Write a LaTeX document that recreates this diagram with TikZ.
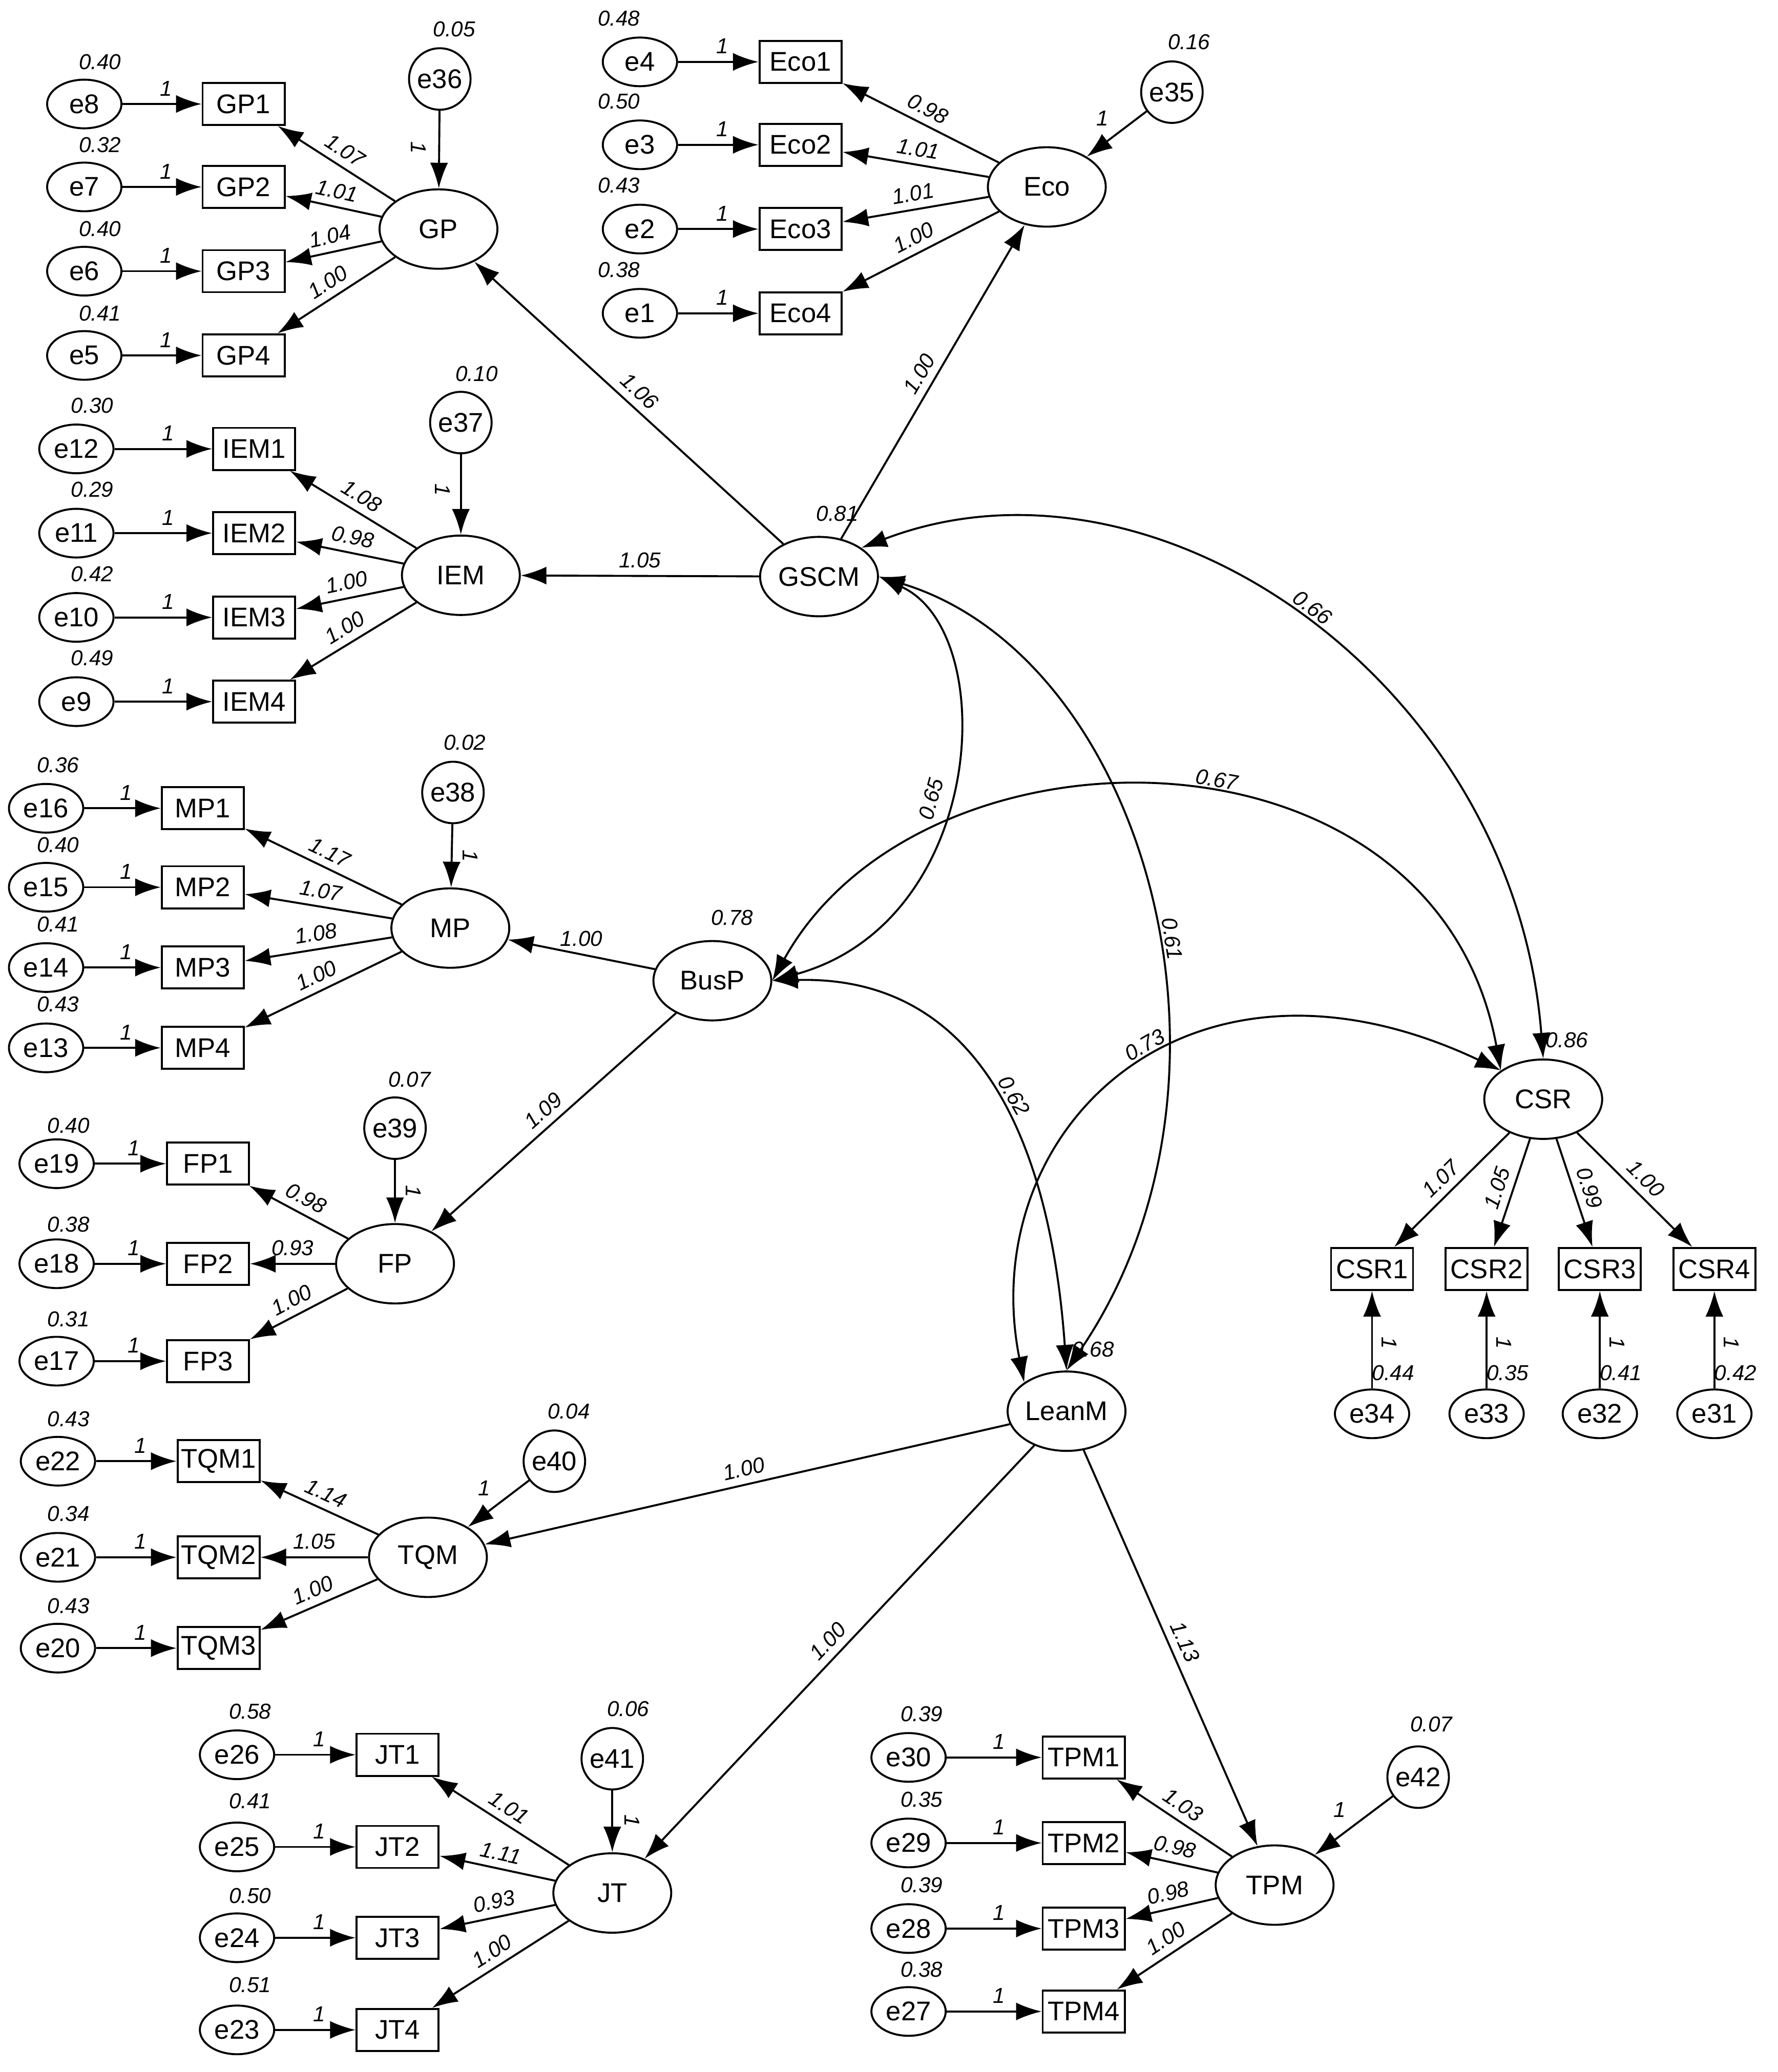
\documentclass[tikz,border=0pt]{standalone}
\usepackage{fontspec}
\setmainfont{Liberation Sans}
\usetikzlibrary{arrows.meta,shapes.geometric}
\begin{document}
\begin{tikzpicture}[x=0.0257cm,y=-0.0257cm,
 lat/.style={ellipse,draw,line width=1.1pt,inner sep=0pt,font=\fontsize{15}{18}\selectfont},
 big/.style={lat,minimum width=2.3cm,minimum height=1.55cm},
 err/.style={ellipse,draw,line width=1.1pt,minimum width=1.45cm,minimum height=0.95cm,inner sep=0pt,font=\fontsize{15}{18}\selectfont},
 cerr/.style={circle,draw,line width=1.1pt,minimum size=1.2cm,inner sep=0pt,font=\fontsize{15}{18}\selectfont},
 box/.style={rectangle,draw,line width=1.1pt,minimum width=1.6cm,minimum height=0.82cm,inner sep=1pt,font=\fontsize{15}{18}\selectfont},
 arr/.style={line width=1.1pt,-{Latex[length=0.5cm,width=0.35cm]}},
 cov/.style={line width=1.1pt,{Latex[length=0.5cm,width=0.35cm]}-{Latex[length=0.5cm,width=0.35cm]}},
 lab/.style={font=\fontsize{12}{14}\selectfont\itshape,inner sep=4pt},
 vlab/.style={font=\fontsize{12}{14}\selectfont\itshape,inner sep=0pt}]
\useasboundingbox (0,0) rectangle (1350,1574);
\newcommand\mkind[6]{%
 \node[box] (#1) at (#3,#4) {#2};
 \node[err] (#5) at (#6,#4) {#5};
 \draw[arr] (#5) -- node[lab,above,pos=0.55]{1} (#1);}
\newcommand\vr[3]{\node[vlab] at (#1,#2) {#3};}
% ---------- Eco
\node[big] (Eco) at (795,142) {Eco};
\mkind{Eco1}{Eco1}{608}{47}{e4}{486}\vr{470}{14}{0.48}
\mkind{Eco2}{Eco2}{608}{110}{e3}{486}\vr{470}{77}{0.50}
\mkind{Eco3}{Eco3}{608}{174}{e2}{486}\vr{470}{141}{0.43}
\mkind{Eco4}{Eco4}{608}{238}{e1}{486}\vr{470}{205}{0.38}
\node[cerr] (e35) at (890,70) {e35};\vr{903}{32}{0.16}
\draw[arr] (e35) -- node[lab,above left]{1} (Eco);
\draw[arr] (Eco) -- node[lab,sloped,above]{0.98} (Eco1);
\draw[arr] (Eco) -- node[lab,sloped,above]{1.01} (Eco2);
\draw[arr] (Eco) -- node[lab,sloped,above]{1.01} (Eco3);
\draw[arr] (Eco) -- node[lab,sloped,above]{1.00} (Eco4);
% ---------- GP
\node[big] (GP) at (333,174) {GP};
\mkind{GP1}{GP1}{185}{79}{e8}{64}\vr{76}{47}{0.40}
\mkind{GP2}{GP2}{185}{142}{e7}{64}\vr{76}{110}{0.32}
\mkind{GP3}{GP3}{185}{206}{e6}{64}\vr{76}{174}{0.40}
\mkind{GP4}{GP4}{185}{270}{e5}{64}\vr{76}{238}{0.41}
\node[cerr] (e36) at (334,60) {e36};\vr{345}{22}{0.05}
\draw[arr] (e36) -- (GP);
\node[lab,rotate=-90] at (318,112) {1};
\draw[arr] (GP) -- node[lab,sloped,above]{1.07} (GP1);
\draw[arr] (GP) -- node[lab,sloped,above]{1.01} (GP2);
\draw[arr] (GP) -- node[lab,sloped,above]{1.04} (GP3);
\draw[arr] (GP) -- node[lab,sloped,above]{1.00} (GP4);
% ---------- IEM
\node[big] (IEM) at (350,437) {IEM};
\mkind{IEM1}{IEM1}{193}{341}{e12}{58}\vr{70}{308}{0.30}
\mkind{IEM2}{IEM2}{193}{405}{e11}{58}\vr{70}{372}{0.29}
\mkind{IEM3}{IEM3}{193}{469}{e10}{58}\vr{70}{436}{0.42}
\mkind{IEM4}{IEM4}{193}{533}{e9}{58}\vr{70}{500}{0.49}
\node[cerr] (e37) at (350,321) {e37};\vr{362}{284}{0.10}
\draw[arr] (e37) -- (IEM);
\node[lab,rotate=-90] at (336,372) {1};
\draw[arr] (IEM) -- node[lab,sloped,above]{1.08} (IEM1);
\draw[arr] (IEM) -- node[lab,sloped,above]{0.98} (IEM2);
\draw[arr] (IEM) -- node[lab,sloped,above]{1.00} (IEM3);
\draw[arr] (IEM) -- node[lab,sloped,above]{1.00} (IEM4);
% ---------- GSCM
\node[big] (GSCM) at (622,438) {GSCM};\vr{636}{390}{0.81}
\draw[arr] (GSCM) -- node[lab,sloped,above]{1.06} (GP);
\draw[arr] (GSCM) -- node[lab,sloped,above]{1.00} (Eco);
\draw[arr] (GSCM) -- node[lab,above]{1.05} (IEM);
% ---------- MP
\node[big] (MP) at (342,705) {MP};
\mkind{MP1}{MP1}{154}{614}{e16}{35}\vr{44}{581}{0.36}
\mkind{MP2}{MP2}{154}{674}{e15}{35}\vr{44}{642}{0.40}
\mkind{MP3}{MP3}{154}{735}{e14}{35}\vr{44}{702}{0.41}
\mkind{MP4}{MP4}{154}{796}{e13}{35}\vr{44}{763}{0.43}
\node[cerr] (e38) at (344,602) {e38};\vr{353}{564}{0.02}
\draw[arr] (e38) -- (MP);
\node[lab,rotate=-90] at (357,650) {1};
\draw[arr] (MP) -- node[lab,sloped,above]{1.17} (MP1);
\draw[arr] (MP) -- node[lab,sloped,above]{1.07} (MP2);
\draw[arr] (MP) -- node[lab,sloped,above]{1.08} (MP3);
\draw[arr] (MP) -- node[lab,sloped,above]{1.00} (MP4);
% ---------- BusP
\node[big] (BusP) at (541,745) {BusP};\vr{556}{697}{0.78}
\draw[arr] (BusP) -- node[lab,above]{1.00} (MP);
% ---------- FP
\node[big] (FP) at (300,960) {FP};
\mkind{FP1}{FP1}{158}{884}{e19}{43}\vr{52}{855}{0.40}
\mkind{FP2}{FP2}{158}{960}{e18}{43}\vr{52}{930}{0.38}
\mkind{FP3}{FP3}{158}{1034}{e17}{43}\vr{52}{1002}{0.31}
\node[cerr] (e39) at (300,857) {e39};\vr{311}{820}{0.07}
\draw[arr] (e39) -- (FP);
\node[lab,rotate=-90] at (314,905) {1};
\draw[arr] (FP) -- node[lab,sloped,above]{0.98} (FP1);
\draw[arr] (FP) -- node[lab,above]{0.93} (FP2);
\draw[arr] (FP) -- node[lab,sloped,above]{1.00} (FP3);
\draw[arr] (BusP) -- node[lab,sloped,above]{1.09} (FP);
% ---------- LeanM
\node[big] (LeanM) at (810,1072) {LeanM};\vr{830}{1025}{0.68}
% ---------- TQM
\node[big] (TQM) at (325,1183) {TQM};
\mkind{TQM1}{TQM1}{166}{1110}{e22}{44}\vr{52}{1078}{0.43}
\mkind{TQM2}{TQM2}{166}{1183}{e21}{44}\vr{52}{1150}{0.34}
\mkind{TQM3}{TQM3}{166}{1252}{e20}{44}\vr{52}{1220}{0.43}
\node[cerr] (e40) at (421,1110) {e40};\vr{432}{1072}{0.04}
\draw[arr] (e40) -- node[lab,above left]{1} (TQM);
\draw[arr] (TQM) -- node[lab,sloped,above]{1.14} (TQM1);
\draw[arr] (TQM) -- node[lab,above]{1.05} (TQM2);
\draw[arr] (TQM) -- node[lab,sloped,above]{1.00} (TQM3);
\draw[arr] (LeanM) -- node[lab,sloped,above]{1.00} (TQM);
% ---------- JT
\node[big] (JT) at (465,1438) {JT};
\mkind{JT1}{JT1}{302}{1333}{e26}{180}\vr{190}{1300}{0.58}
\mkind{JT2}{JT2}{302}{1403}{e25}{180}\vr{190}{1368}{0.41}
\mkind{JT3}{JT3}{302}{1472}{e24}{180}\vr{190}{1440}{0.50}
\mkind{JT4}{JT4}{302}{1542}{e23}{180}\vr{190}{1508}{0.51}
\node[cerr] (e41) at (465,1336) {e41};\vr{477}{1298}{0.06}
\draw[arr] (e41) -- (JT);
\node[lab,rotate=-90] at (480,1383) {1};
\draw[arr] (JT) -- node[lab,sloped,above]{1.01} (JT1);
\draw[arr] (JT) -- node[lab,sloped,above]{1.11} (JT2);
\draw[arr] (JT) -- node[lab,sloped,above]{0.93} (JT3);
\draw[arr] (JT) -- node[lab,sloped,above]{1.00} (JT4);
\draw[arr] (LeanM) -- node[lab,sloped,above]{1.00} (JT);
% ---------- TPM
\node[big] (TPM) at (968,1432) {TPM};
\mkind{TPM1}{TPM1}{823}{1335}{e30}{690}\vr{700}{1302}{0.39}
\mkind{TPM2}{TPM2}{823}{1400}{e29}{690}\vr{700}{1367}{0.35}
\mkind{TPM3}{TPM3}{823}{1465}{e28}{690}\vr{700}{1432}{0.39}
\mkind{TPM4}{TPM4}{823}{1528}{e27}{690}\vr{700}{1496}{0.38}
\node[cerr] (e42) at (1077,1350) {e42};\vr{1087}{1310}{0.07}
\draw[arr] (e42) -- node[lab,above left]{1} (TPM);
\draw[arr] (TPM) -- node[lab,sloped,above]{1.03} (TPM1);
\draw[arr] (TPM) -- node[lab,sloped,above]{0.98} (TPM2);
\draw[arr] (TPM) -- node[lab,sloped,above]{0.98} (TPM3);
\draw[arr] (TPM) -- node[lab,sloped,above]{1.00} (TPM4);
\draw[arr] (LeanM) -- node[lab,sloped,above]{1.13} (TPM);
% ---------- CSR
\node[big] (CSR) at (1172,835) {CSR};\vr{1190}{790}{0.86}
\foreach \n/\x/\e/\v/\l in {1/1042/e34/0.44/1.07,2/1129/e33/0.35/1.05,3/1215/e32/0.41/0.99,4/1302/e31/0.42/1.00}{
 \node[box] (CSR\n) at (\x,964) {CSR\n};
 \node[err] (\e) at (\x,1074) {\e};
 \draw[arr] (\e) -- (CSR\n);
 \node[lab,rotate=-90,inner sep=0pt] at (\x+13,1020) {1};
 \node[vlab] at (\x+16,1043) {\v};
 \draw[arr] (CSR) -- node[lab,sloped,above]{\l} (CSR\n);
}
% ---------- covariances
\draw[cov] (GSCM.north east) .. controls (880,330) and (1150,520) .. node[lab,sloped,above,pos=0.5]{0.66} (CSR.north);
\draw[cov] (GSCM.east) .. controls (760,480) and (750,700) .. node[lab,sloped,above,pos=0.55]{0.65} (BusP.east);
\draw[cov] (GSCM.east) .. controls (870,500) and (960,820) .. node[lab,sloped,above,pos=0.55]{0.61} (LeanM.north);
\draw[cov] (BusP.east) .. controls (700,540) and (1090,540) .. node[lab,sloped,above,pos=0.55]{0.67} (CSR.north west);
\draw[cov] (BusP.east) .. controls (760,740) and (800,900) .. node[lab,sloped,above,pos=0.5]{0.62} (LeanM.north);
\draw[cov] (LeanM.north west) .. controls (740,860) and (900,700) .. node[lab,sloped,above,pos=0.55]{0.73} (CSR.north west);
\end{tikzpicture}
\end{document}
